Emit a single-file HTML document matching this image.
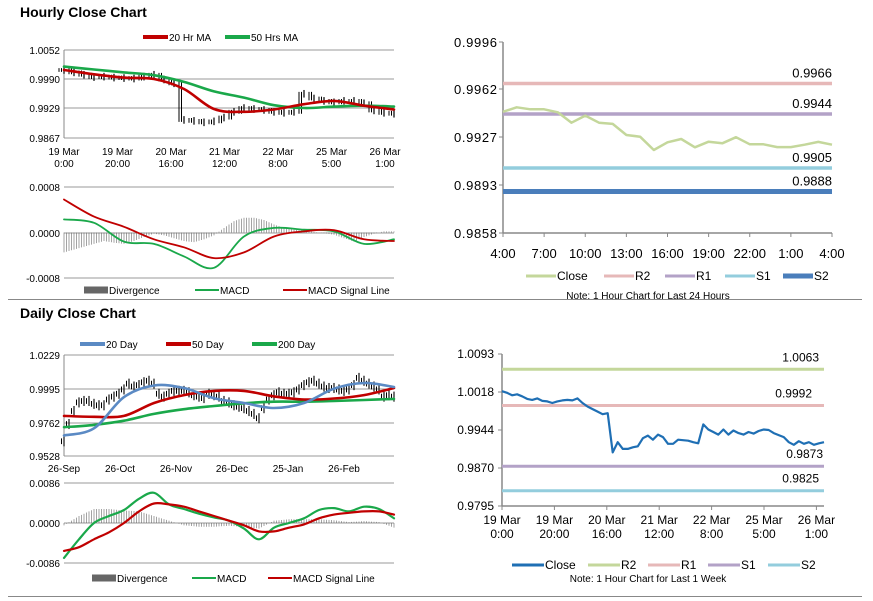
<!DOCTYPE html>
<html><head><meta charset="utf-8"><style>
body{margin:0;background:#fff;}
svg{display:block;font-family:"Liberation Sans",sans-serif;}
</style></head><body>
<svg id="s" width="873" height="601" viewBox="0 0 873 601" xmlns="http://www.w3.org/2000/svg">
<text x="20" y="17" font-size="14" font-weight="bold">Hourly Close Chart</text>
<text x="20" y="318" font-size="14" font-weight="bold">Daily Close Chart</text>
<line x1="8" y1="299.5" x2="862" y2="299.5" stroke="#888"/>
<line x1="8" y1="596.5" x2="862" y2="596.5" stroke="#888"/>
<g id="g"></g>
</svg>
<script>
// ---- Hourly (top-left)
const hCloses=[1.0010,1.0005,1.0000,0.9995,0.9996,0.9994,0.9993,0.9992,0.9996,1.0000,0.9990,0.9982,0.9905,0.9903,0.9900,0.9902,0.9910,0.9922,0.9930,0.9928,0.9926,0.9922,0.9920,0.9922,0.9960,0.9950,0.9945,0.9942,0.9945,0.9945,0.9940,0.9925,0.9920,0.9918];
const hMA20=[1.0010,1.0001,0.9994,0.9991,0.9970,0.9928,0.9922,0.9927,0.9938,0.9945,0.9935,0.9927];
const hMA50=[1.0017,1.0011,1.0005,0.9999,0.9985,0.9965,0.9952,0.9936,0.9930,0.9933,0.9935,0.9933];
const hTicksY=["1.0052","0.9990","0.9929","0.9867"];
const hTicksX=[["19 Mar","0:00"],["19 Mar","20:00"],["20 Mar","16:00"],["21 Mar","12:00"],["22 Mar","8:00"],["25 Mar","5:00"],["26 Mar","1:00"]];
const hMacd=[0.00023,0.00017,-0.00016,-0.0002,-0.00042,-0.00062,-0.00007,0.00008,0.00005,0.00002,-0.0002,-0.00012];
const hSignal=[0.00058,0.00028,0.0001,-0.00012,-0.00026,-0.00045,-0.00035,-0.00007,0.00002,0.00004,-0.00012,-0.00015];
const hDiv=[-0.00035,-0.0003,-0.00025,-0.0002,-0.00015,-0.00018,-0.0002,-0.00015,-0.00008,-0.00002,-0.00005,-0.0001,-0.00015,-0.00017,-0.00012,-0.00005,0.00008,0.0002,0.00026,0.00026,0.00022,0.00014,0.00008,0.00005,0.00003,0.00001,-0.00001,-0.00004,-0.0001,-0.00016,-0.00008,-0.00002,0.00002,0.00002];
const hMacdTicks=["0.0008","0.0000","-0.0008"];
// ---- Daily (bottom-left)
const dCloses=[0.963,0.975,0.984,0.990,0.991,0.991,0.989,0.988,0.988,0.992,0.994,0.996,0.999,1.003,1.001,1.002,1.004,1.005,1.003,0.996,0.994,0.996,0.998,0.998,0.998,0.997,0.995,0.994,0.993,0.996,0.995,0.994,0.991,0.990,0.988,0.987,0.986,0.984,0.982,0.979,0.986,0.992,0.995,0.997,0.996,0.996,0.997,0.999,1.002,1.004,1.005,1.003,1.001,1.000,1.000,0.999,0.998,0.999,1.002,1.007,1.005,1.003,1.001,0.999,0.994,0.995,0.994];
const d20=[0.967,0.972,0.9937,1.0017,1.0000,0.9929,0.9896,0.9861,0.9896,0.9995,1.0035,1.0007];
const d50=[0.9806,0.9800,0.9806,0.9896,0.9951,0.9980,0.9980,0.9942,0.9920,0.9927,0.9951,1.0000];
const d200=[0.9728,0.9744,0.9773,0.9820,0.9853,0.9875,0.9894,0.9905,0.9905,0.9910,0.9917,0.9924];
const dTicksY=["1.0229","0.9995","0.9762","0.9528"];
const dTicksX=["26-Sep","26-Oct","26-Nov","26-Dec","25-Jan","26-Feb"];
const dMacd=[-0.0075,-0.0035,0.0000,0.0015,0.0028,0.0052,0.0065,0.0040,0.0030,0.0020,0.0012,0.0005,-0.0012,-0.0035,-0.0010,0.0000,0.0010,0.0028,0.0032,0.0025,0.0035,0.0030,0.0010];
const dSignal=[-0.0060,-0.0052,-0.0035,-0.0020,0.0000,0.0025,0.0042,0.0040,0.0035,0.0025,0.0015,0.0005,-0.0005,-0.0018,-0.0018,-0.0010,-0.0003,0.0010,0.0018,0.0022,0.0025,0.0025,0.0018];
const dDiv=[-0.0005,0.0015,0.0030,0.0030,0.0027,0.0025,0.0015,0.0005,-0.0005,-0.0008,-0.0008,-0.0006,-0.0008,-0.0012,0.0005,0.0008,0.0008,0.0008,0.0006,0.0002,0.0004,0.0002,-0.0010];
const dMacdTicks=["0.0086","0.0000","-0.0086"];
// ---- 24h (top-right)
const t24Close=[0.99456,0.99488,0.99474,0.99474,0.99452,0.99377,0.99428,0.99377,0.99368,0.99288,0.99276,0.99180,0.99235,0.99259,0.99199,0.99240,0.99228,0.99272,0.99221,0.99221,0.99201,0.99201,0.99218,0.99238,0.99218];
const t24Levels=[0.9966,0.9944,0.9905,0.9888];
const t24TicksY=["0.9996","0.9962","0.9927","0.9893","0.9858"];
const t24TicksX=["4:00","7:00","10:00","13:00","16:00","19:00","22:00","1:00","4:00"];
// ---- Week (bottom-right)
const wkClose=[1.0020,1.0017,1.0012,1.0014,1.0010,1.0005,1.0003,1.0006,1.0001,1.0000,0.9997,1.0000,1.0002,1.0003,1.0002,1.0006,0.9997,0.9990,0.9985,0.9980,0.9975,0.9977,0.9900,0.9920,0.9907,0.9907,0.9910,0.9912,0.9928,0.9933,0.9925,0.9935,0.9930,0.9917,0.9917,0.9925,0.9924,0.9923,0.9920,0.9918,0.9955,0.9945,0.9940,0.9935,0.9945,0.9935,0.9943,0.9938,0.9935,0.9940,0.9937,0.9942,0.9945,0.9944,0.9938,0.9934,0.9930,0.9920,0.9915,0.9922,0.9917,0.9920,0.9915,0.9918,0.9920];
const wkLevels=[1.0063,0.9992,0.9873,0.9825];
const wkTicksY=["1.0093","1.0018","0.9944","0.9870","0.9795"];
const wkTicksX=[["19 Mar","0:00"],["19 Mar","20:00"],["20 Mar","16:00"],["21 Mar","12:00"],["22 Mar","8:00"],["25 Mar","5:00"],["26 Mar","1:00"]];

const NS="http://www.w3.org/2000/svg", G=document.getElementById('g');
function mk(tag,at,txt){const e=document.createElementNS(NS,tag);for(const k in at)e.setAttribute(k,at[k]);if(txt!==undefined)e.textContent=txt;G.appendChild(e);return e;}
function lin(d0,d1,r0,r1){return v=>r0+(v-d0)/(d1-d0)*(r1-r0);}
function poly(arr,x0,x1,ys,col,w,name){
  const pts=arr.map((v,i)=>(x0+i*(x1-x0)/(arr.length-1)).toFixed(1)+','+ys(v).toFixed(1)).join(' ');
  const e=mk('polyline',{points:pts,fill:'none',stroke:col,'stroke-width':w,'stroke-linejoin':'round'});
  
  
}
function smooth(arr,x0,x1,ys,col,w,name){
  const P=arr.map((v,i)=>[x0+i*(x1-x0)/(arr.length-1),ys(v)]);
  let d='M'+P[0][0].toFixed(1)+','+P[0][1].toFixed(1);
  for(let i=0;i<P.length-1;i++){
    const p0=P[Math.max(i-1,0)],p1=P[i],p2=P[i+1],p3=P[Math.min(i+2,P.length-1)];
    const c1=[p1[0]+(p2[0]-p0[0])/6,p1[1]+(p2[1]-p0[1])/6],c2=[p2[0]-(p3[0]-p1[0])/6,p2[1]-(p3[1]-p1[1])/6];
    d+=' C'+c1.map(n=>n.toFixed(1))+' '+c2.map(n=>n.toFixed(1))+' '+p2.map(n=>n.toFixed(1));
  }
  const e=mk('path',{d:d,fill:'none',stroke:col,'stroke-width':w,'stroke-linecap':'round'});
  
  
}
function grid(yArr,labels,x0,x1,fs,name){
  yArr.forEach((y,i)=>{
    const l=mk('line',{x1:x0,y1:y,x2:x1,y2:y,stroke:'#999','stroke-width':1});
    
    
    const t=mk('text',{x:x0-4,y:y+4,'font-size':fs,'text-anchor':'end'},labels[i]);
    
    
  });
}
function legend(items,y,fs){
  items.forEach(it=>{
    const r=mk('rect',{x:it[0],y:y-it[3]/2,width:it[4],height:it[3],fill:it[1]});
    
    
    const t=mk('text',{x:it[0]+it[4]+1,y:y+4,'font-size':fs},it[2]);
    
    
  });
}
function interp(arr,f){const p=f*(arr.length-1),i=Math.min(Math.floor(p),arr.length-2),r=p-i;return arr[i]*(1-r)+arr[i+1]*r;}

// Hourly price
(function(){
  const x0=64,x1=394,ys=lin(1.0052,0.9867,50,138);
  grid([50,79,108,138],hTicksY,x0,x1,10,'hourly-y');
  mk('line',{x1:x0,y1:50,x2:x0,y2:138,stroke:'#888'});
  hTicksX.forEach((t,i)=>{const x=x0+i*53.5;
    const a=mk('text',{x:x,y:155,'font-size':10,'text-anchor':'middle'},t[0]);
    const b=mk('text',{x:x,y:167,'font-size':10,'text-anchor':'middle'},t[1]);});
  hCloses.forEach((v,i)=>{const x=x0+i*(x1-x0)/(hCloses.length-1);
    const b=mk('line',{x1:x,y1:ys(v+0.0008),x2:x,y2:ys(v-0.0008),stroke:'#000','stroke-width':1.2});
    
    const prev=i?hCloses[i-1]:v;
    [-2.5,-5].forEach(dx=>{const b2=mk('line',{x1:x+dx,y1:ys(Math.max(prev,v)+0.0004),x2:x+dx,y2:ys(Math.min(prev,v)-0.0004),stroke:'#000','stroke-width':1});
    });});
  smooth(hMA50,x0,x1,ys,'#1aa84a',2.6,'hourly-ma50-line');
  smooth(hMA20,x0,x1,ys,'#c00000',2.6,'hourly-ma20-line');
  legend([[143,'#c00000','20 Hr MA',4,25],[225,'#1aa84a','50 Hrs MA',4,25]],37,10);
  // MACD
  const ym=lin(0.0008,-0.0008,187,278);
  grid([187,233,278],hMacdTicks,x0,x1,10,'hourly-macd-y');
  for(let x=x0;x<=x1;x+=2.5){const v=interp(hDiv,(x-x0)/(x1-x0));
    const b=mk('line',{x1:x,y1:ym(0),x2:x,y2:ym(v),stroke:'#666','stroke-width':0.6});
    }
  smooth(hMacd,x0,x1,ym,'#1aa84a',1.8,'hourly-macd-line');
  smooth(hSignal,x0,x1,ym,'#c00000',1.8,'hourly-signal-line');
  legend([[84,'#666','Divergence',7,24],[195,'#1aa84a','MACD',2,24],[283,'#c00000','MACD Signal Line',2,24]],290,10);
})();

// Daily
(function(){
  const x0=64,x1=394,ys=lin(1.0229,0.9528,355,456);
  grid([355,389,423,456],dTicksY,x0,x1,10,'daily-y');
  mk('line',{x1:x0,y1:355,x2:x0,y2:456,stroke:'#888'});
  dTicksX.forEach((t,i)=>{const e=mk('text',{x:x0+i*56,y:472,'font-size':10,'text-anchor':'middle'},t);});
  dCloses.forEach((v,i)=>{const x=x0+i*(x1-x0)/(dCloses.length-1);
    const b=mk('line',{x1:x,y1:ys(v+0.0035),x2:x,y2:ys(v-0.0035),stroke:'#000','stroke-width':1.1});
    
    const b2=mk('line',{x1:x-2.5,y1:ys(v+0.002),x2:x-2.5,y2:ys(v-0.002),stroke:'#000','stroke-width':1});
    });
  smooth(d200,x0,x1,ys,'#1aa84a',2.6,'daily-200day-line');
  smooth(d50,x0,x1,ys,'#c00000',2.6,'daily-50day-line');
  smooth(d20,x0,x1,ys,'#5b8ac4',2.6,'daily-20day-line');
  legend([[80,'#5b8ac4','20 Day',4,25],[166,'#c00000','50 Day',4,25],[252,'#1aa84a','200 Day',4,25]],344,10);
  const ym=lin(0.0086,-0.0086,483,563);
  grid([483,523,563],dMacdTicks,x0,x1,10,'daily-macd-y');
  for(let x=x0;x<=x1;x+=2.5){const v=interp(dDiv,(x-x0)/(x1-x0));
    const b=mk('line',{x1:x,y1:ym(0),x2:x,y2:ym(v),stroke:'#666','stroke-width':0.6});
    }
  smooth(dMacd,x0,x1,ym,'#1aa84a',2.2,'daily-macd-line');
  smooth(dSignal,x0,x1,ym,'#c00000',2.2,'daily-signal-line');
  legend([[92,'#666','Divergence',7,24],[192,'#1aa84a','MACD',2,24],[268,'#c00000','MACD Signal Line',2,24]],578,10);
})();

// 24h
(function(){
  const x0=503,x1=832,ys=lin(0.9996,0.9858,42,233);
  [42,89,137,185,233].forEach((y,i)=>{
    const t=mk('text',{x:x0-6,y:y+5,'font-size':13,'text-anchor':'end',textLength:43},t24TicksY[i]);
    mk('line',{x1:x0-4,y1:y,x2:x0,y2:y,stroke:'#888'});});
  mk('line',{x1:x0,y1:42,x2:x0,y2:233,stroke:'#888','stroke-width':1.5});
  mk('line',{x1:x0,y1:233,x2:x1,y2:233,stroke:'#888','stroke-width':1.5});
  t24TicksX.forEach((t,i)=>{const x=x0+i*(x1-x0)/8;mk('line',{x1:x,y1:233,x2:x,y2:237,stroke:'#888'});
    const e=mk('text',{x:x,y:258,'font-size':13,'text-anchor':'middle'},t);});
  const cols=['#e6b8b8','#b3a2c7','#93cddd','#4a7ebb'],ws=[3.5,3.5,3.5,5];
  t24Levels.forEach((v,i)=>{const l=mk('line',{x1:x0,y1:ys(v),x2:x1,y2:ys(v),stroke:cols[i],'stroke-width':ws[i]});
    
    const t=mk('text',{x:x1,y:ys(v)-6,'font-size':13,'text-anchor':'end'},v.toFixed(4));});
  poly(t24Close,x0,x1,ys,'#c4d79b',2.5,'t24-close-line');
  legend([[526,'#c4d79b','Close',3,30],[604,'#e6b8b8','R2',3,30],[665,'#b3a2c7','R1',3,30],[725,'#93cddd','S1',3,30],[783,'#4a7ebb','S2',5,30]],276,12);
  const n=mk('text',{x:648,y:299,'font-size':10,'text-anchor':'middle'},'Note: 1 Hour Chart for Last 24 Hours');
})();

// Week
(function(){
  const x0=502,x1=824,ys=lin(1.0093,0.9795,354,506);
  [354,392,430,468,506].forEach((y,i)=>{
    const t=mk('text',{x:x0-8,y:y+4,'font-size':12,'text-anchor':'end'},wkTicksY[i]);
    mk('line',{x1:x0-4,y1:y,x2:x0,y2:y,stroke:'#888'});});
  mk('line',{x1:x0,y1:354,x2:x0,y2:506,stroke:'#888','stroke-width':1.5});
  mk('line',{x1:x0,y1:506,x2:x1,y2:506,stroke:'#888','stroke-width':1.5});
  wkTicksX.forEach((t,i)=>{const x=x0+i*52.4;mk('line',{x1:x,y1:506,x2:x,y2:510,stroke:'#888'});
    const a=mk('text',{x:x,y:524,'font-size':12,'text-anchor':'middle'},t[0]);
    const b=mk('text',{x:x,y:538,'font-size':12,'text-anchor':'middle'},t[1]);});
  const cols=['#c4d79b','#e6b8b8','#b3a2c7','#93cddd'],lx=[819,812,823,819];
  wkLevels.forEach((v,i)=>{const l=mk('line',{x1:x0,y1:ys(v),x2:x1,y2:ys(v),stroke:cols[i],'stroke-width':3});
    
    const t=mk('text',{x:lx[i],y:ys(v)-8,'font-size':12,'text-anchor':'end'},v.toFixed(4));});
  poly(wkClose,x0,x1,ys,'#1f6fb4',2.2,'week-close-line');
  legend([[512,'#1f6fb4','Close',3,32],[588,'#c4d79b','R2',3,32],[648,'#e6b8b8','R1',3,32],[708,'#b3a2c7','S1',3,32],[768,'#93cddd','S2',3,32]],565,12);
  const n=mk('text',{x:648,y:582,'font-size':10,'text-anchor':'middle'},'Note: 1 Hour Chart for Last 1 Week');
})();
</script>
</body></html>
